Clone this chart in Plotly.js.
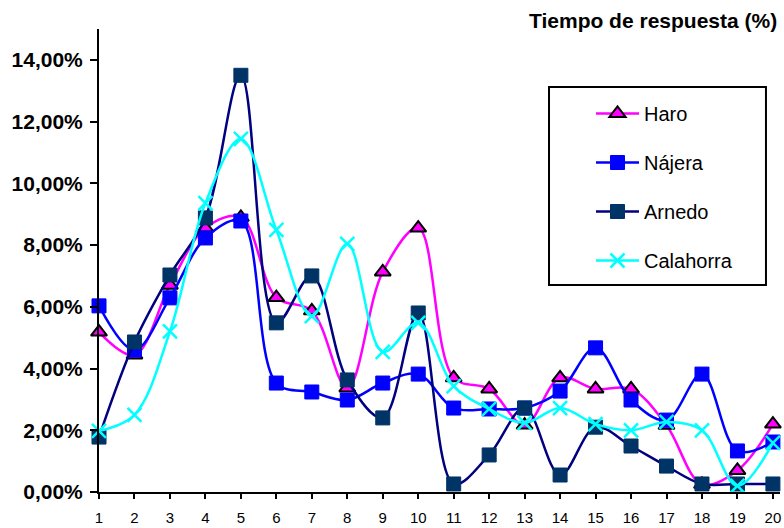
<!DOCTYPE html>
<html>
<head>
<meta charset="utf-8">
<script src="https://cdn.plot.ly/plotly-3.0.1.min.js"></script>
<style>html,body{margin:0;padding:0;background:#fff;}#chart{width:784px;height:528px;}</style>
</head>
<body>
<div id="chart"></div>
<script>
const categories = [1,2,3,4,5,6,7,8,9,10,11,12,13,14,15,16,17,18,19,20];
const haro      = [5.18,4.44,6.70,8.55,8.90,6.30,5.87,3.37,7.13,8.55,3.70,3.34,2.17,3.70,3.34,3.34,2.16,0.25,0.70,2.20];
const najera    = [6.03,4.60,6.29,8.23,8.78,3.53,3.24,2.98,3.53,3.82,2.72,2.69,2.72,3.27,4.67,2.98,2.33,3.82,1.33,1.62];
const arnedo    = [1.78,4.86,7.03,8.88,13.50,5.48,7.00,3.63,2.40,5.80,0.26,1.20,2.72,0.55,2.10,1.49,0.84,0.26,0.26,0.26];
const calahorra = [1.98,2.50,5.20,9.36,11.44,8.49,5.70,8.04,4.54,5.48,3.43,2.69,2.24,2.72,2.20,2.00,2.27,2.00,0.20,1.59];
const yTicks = [0,0.02,0.04,0.06,0.08,0.10,0.12,0.14];
const titleText = "Tiempo de respuesta (%)";

const FONT = '"Liberation Sans", Arial, Helvetica, sans-serif';
const pct = a => a.map(v => v/100);
function tr(name, vals, lineColor, marker, group){
  return {x: categories, y: pct(vals), name: name, type: 'scatter', mode: 'lines+markers',
    line: {color: lineColor, width: 2.5, shape: 'spline', smoothing: 1},
    marker: marker, cliponaxis: false, legendgroup: group};
}
const data = [
  tr('Haro', haro, '#FF00FF', {symbol:'triangle-up', size:14, color:'#FF00FF', line:{color:'#000', width:2}}, 'a'),
  tr('Nájera', najera, '#0000FF', {symbol:'square', size:14, color:'#0000FF', line:{color:'#0000FF', width:1}}, 'b'),
  tr('Arnedo', arnedo, '#000080', {symbol:'square', size:14, color:'#003366', line:{color:'#003366', width:1}}, 'c'),
  tr('Calahorra', calahorra, '#00FFFF', {symbol:'x-thin', size:14, color:'#00FFFF', line:{color:'#00FFFF', width:2.5}}, 'd')
];
const layout = {
  width: 784, height: 528,
  margin: {l: 99, r: 4, t: 29, b: 36},
  paper_bgcolor: '#fff', plot_bgcolor: '#fff',
  font: {family: FONT, color: '#000'},
  separators: ',.',
  showlegend: true,
  legend: {x: 0.6608, y: 0.8596, xanchor: 'left', yanchor: 'top',
    borderwidth: 0, bgcolor: 'rgba(0,0,0,0)',
    font: {size: 20, color: '#000', family: FONT}, tracegroupgap: 20, itemwidth: 43,
    indentation: 42},
  shapes: [{type: 'rect', xref: 'paper', yref: 'paper', x0: 0.6608, x1: 0.9794, y0: 0.4471, y1: 0.8747,
    line: {color: '#000', width: 2}, fillcolor: '#fff', layer: 'above'}],
  xaxis: {range: [1, 20.2], tickvals: categories, ticktext: categories.map(String),
    showgrid: false, zeroline: false, showline: true, linecolor: '#000', linewidth: 2,
    ticks: 'outside', ticklen: 5, tickwidth: 2, tickcolor: '#000',
    ticklabelstandoff: 6,
    tickfont: {size: 15, family: FONT}},
  yaxis: {range: [0, 0.15], tickvals: yTicks, tickformat: '.2%',
    showgrid: false, zeroline: false, showline: true, linecolor: '#000', linewidth: 2,
    ticks: 'outside', ticklen: 7, tickwidth: 2, tickcolor: '#000',
    ticklabelstandoff: 3,
    tickfont: {size: 21, family: FONT, weight: 'bold'}},
  annotations: [{text: '<b>' + titleText + '</b>', xref: 'paper', yref: 'paper',
    x: 0.9985, y: 1.0194, xanchor: 'right', yanchor: 'middle', showarrow: false,
    font: {size: 21, family: FONT}}]
};
Plotly.newPlot('chart', data, layout, {displayModeBar: false, staticPlot: true});
</script>
</body>
</html>
